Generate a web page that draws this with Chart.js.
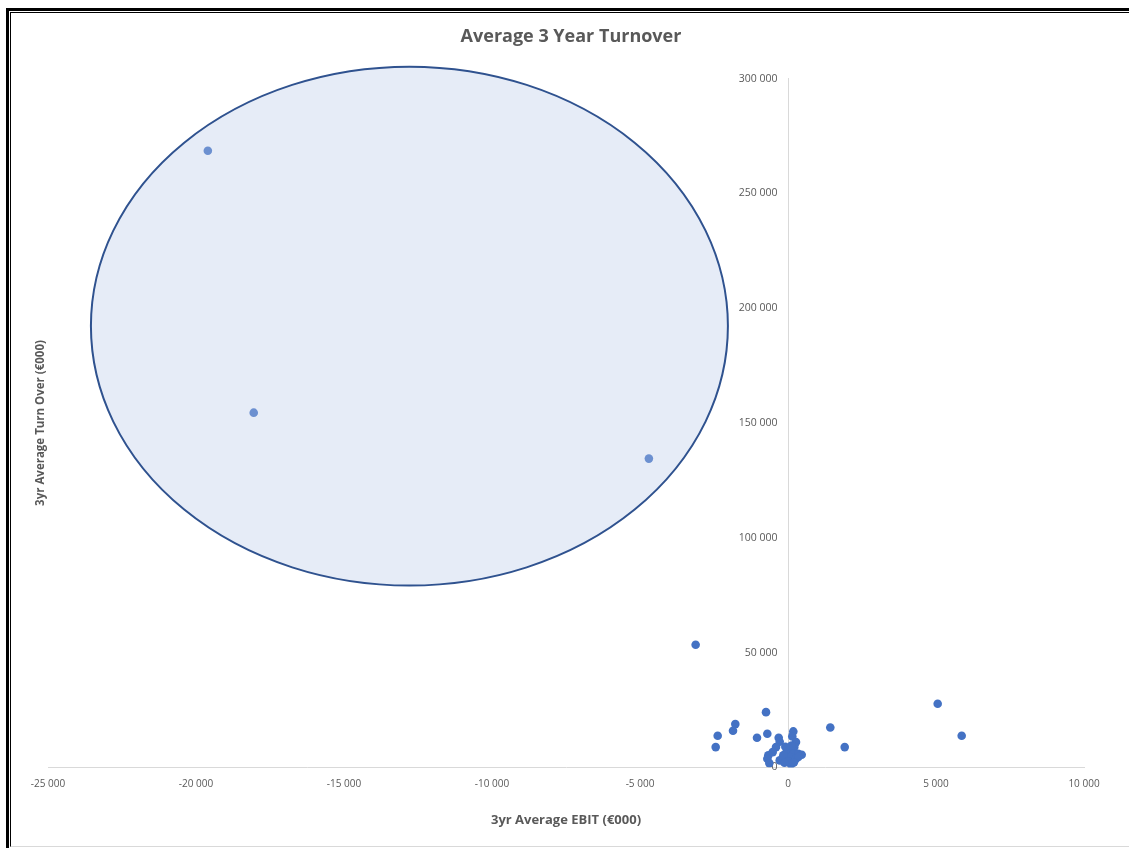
<!DOCTYPE html>
<html>
<head>
<meta charset="utf-8">
<script src="https://cdn.jsdelivr.net/npm/chart.js@4/dist/chart.umd.min.js"></script>
<style>
  html, body { margin: 0; padding: 0; background: #ffffff; }
  #wrap { position: relative; width: 1129px; height: 848px; overflow: hidden; }
  #c { position: absolute; left: 0; top: 0; }
  #outer { position: absolute; left: 6px; top: 8px; width: 1200px; height: 900px; border-left: 3px solid #000; border-top: 3px solid #000; box-sizing: border-box; }
  #inner { position: absolute; left: 10px; top: 12px; width: 1200px; height: 835px; border-left: 1px solid #000; border-top: 1px solid #000; border-bottom: 1px solid #d9d9d9; box-sizing: border-box; }
</style>
</head>
<body>
<div id="wrap">
  <canvas id="c" width="1129" height="848"></canvas>
  <div id="outer"></div>
  <div id="inner"></div>
</div>
<script>
// ---- Data ----
const chartTitle = "Average 3 Year Turnover";
const xAxisTitle = "3yr Average EBIT (€000)";
const yAxisTitle = "3yr Average Turn Over (€000)";

// 3yr Average EBIT (€000)
const ebit = [
  -19600, -18050, -4700,
  -3120, -743, -1780, -1858, -2375, -2443, -1047, -699, -314, -280, -405,
  -517, -666, -699, -632, -280, 179, 145, 270, 213, 68, -68, 179, 348, 463,
  68, 270, 101, -159, 1429, 1916, 5057, 5868,
  0, 120, -90, 350, 200, -120
];
// 3yr Average Turnover (€000)
const turnover = [
  268600, 154500, 134500,
  53420, 24070, 18850, 15980, 13800, 8840, 12930, 14670, 12930, 11190, 8840,
  6660, 5220, 3790, 1870, 3050, 15670, 13500, 11010, 8840, 7400, 6230, 5960, 5960, 5530,
  4480, 3790, 1310, 5220, 17410, 8840, 27730, 13800,
  2500, 9500, 9000, 4500, 2200, 2000
];

const xMin = -25000, xMax = 10000, xStep = 5000;
const yMin = 0, yMax = 300000, yStep = 50000;

// highlight ellipse (in data units)
const highlight = { cx: -12790, cy: 192200, rx: 10760, ry: 113000 };

function fmt(v) {
  const s = Math.abs(v).toString().replace(/\B(?=(\d{3})+(?!\d))/g, ' ');
  return (v < 0 ? '-' : '') + s;
}

const points = ebit.map((x, i) => ({ x: x, y: turnover[i] }));

const ellipsePlugin = {
  id: 'ellipse',
  afterDatasetsDraw(chart) {
    const { ctx, scales } = chart;
    const cx = scales.x.getPixelForValue(highlight.cx);
    const cy = scales.y.getPixelForValue(highlight.cy);
    const rx = Math.abs(scales.x.getPixelForValue(highlight.cx + highlight.rx) - cx);
    const ry = Math.abs(scales.y.getPixelForValue(highlight.cy + highlight.ry) - cy);
    ctx.save();
    ctx.beginPath();
    ctx.ellipse(cx, cy, rx, ry, 0, 0, Math.PI * 2);
    ctx.fillStyle = 'rgba(184,201,232,0.35)';
    ctx.fill();
    ctx.lineWidth = 2;
    ctx.strokeStyle = '#2f528f';
    ctx.stroke();
    ctx.restore();
  }
};

new Chart(document.getElementById('c'), {
  type: 'scatter',
  data: {
    datasets: [{
      label: 'Companies',
      data: points,
      backgroundColor: '#4472c4',
      borderColor: '#4472c4',
      pointRadius: 4.3,
      pointHoverRadius: 4.3,
      borderWidth: 0
    }]
  },
  plugins: [ellipsePlugin],
  options: {
    responsive: false,
    animation: false,
    layout: { padding: { left: 13, right: 0, top: 12, bottom: 20 } },
    plugins: {
      legend: { display: false },
      tooltip: { enabled: false },
      title: {
        display: true,
        text: chartTitle,
        color: '#595959',
        font: { family: 'Open Sans', size: 18, weight: 'bold' },
        padding: { top: 14, bottom: 31 }
      }
    },
    scales: {
      x: {
        type: 'linear',
        position: 'bottom',
        min: xMin, max: xMax,
        grid: { display: false, drawTicks: false },
        border: { display: true, color: '#d9d9d9', width: 1 },
        ticks: {
          stepSize: xStep,
          color: '#595959',
          font: { family: 'Open Sans', size: 10 },
          padding: 11,
          maxRotation: 0,
          callback: v => fmt(v)
        },
        title: {
          display: true,
          text: xAxisTitle,
          color: '#595959',
          font: { family: 'Open Sans', size: 13, weight: 'bold' },
          padding: { top: 11, bottom: 0 }
        }
      },
      y: {
        type: 'linear',
        position: { x: 0 },
        min: yMin, max: yMax,
        grid: { display: false, drawTicks: false },
        border: { display: true, color: '#d9d9d9', width: 1 },
        ticks: {
          stepSize: yStep,
          color: '#595959',
          font: { family: 'Open Sans', size: 10.5 },
          callback: v => fmt(v) + '\u2002\u2002'
        }
      },
      yt: {
        type: 'linear',
        position: 'left',
        min: yMin, max: yMax,
        grid: { display: false, drawTicks: false },
        border: { display: false },
        ticks: { display: false },
        afterFit: s => { s.width = 35; },
        title: {
          display: true,
          text: yAxisTitle,
          color: '#595959',
          font: { family: 'Open Sans', size: 11.5, weight: 'bold' },
          padding: { top: 21, bottom: 0 }
        }
      },
      yr: {
        type: 'linear',
        position: 'right',
        min: yMin, max: yMax,
        grid: { display: false, drawTicks: false },
        border: { display: false },
        ticks: { display: false },
        afterFit: s => { s.width = 45; }
      }
    }
  }
});
</script>
</body>
</html>
